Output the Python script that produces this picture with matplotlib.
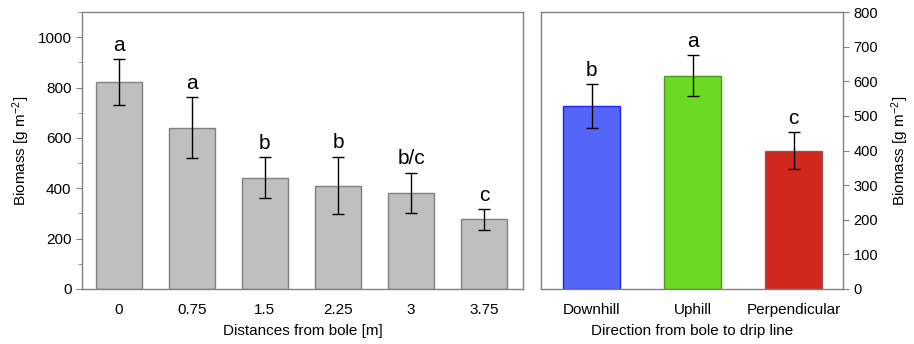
import numpy as np
import matplotlib
matplotlib.use('Agg')
import matplotlib.pyplot as plt
from matplotlib.ticker import MultipleLocator

plt.rcParams['font.family'] = ['Liberation Sans', 'DejaVu Sans']
plt.rcParams['font.size'] = 11
plt.rcParams['mathtext.fontset'] = 'custom'
plt.rcParams['mathtext.rm'] = 'Liberation Sans'
plt.rcParams['mathtext.default'] = 'regular'

# data, left panel
distances = ['0', '0.75', '1.5', '2.25', '3', '3.75']
biomass_dist = [822, 641, 442, 411, 382, 276]
err_dist = [91, 122, 82, 115, 80, 40]
letters_dist = ['a', 'a', 'b', 'b', 'b/c', 'c']

# data, right panel
directions = ['Downhill', 'Uphill', 'Perpendicular']
biomass_dir = [528, 616, 399]
err_dir = [63, 60, 53]
letters_dir = ['b', 'a', 'c']
colors_dir = ['#5465FA', '#6ADA22', '#D0281C']
edges_dir = ['#2222EE', '#4A9A22', '#8A5A50']

spine_col = '#808080'
ylab = 'Biomass [g m$^{\\mathrm{-2}}$]'

fig = plt.figure(figsize=(9.14, 3.44), dpi=100)
ax1 = fig.add_axes([82/914, 1-289/344, 441/914, 277/344])
ax2 = fig.add_axes([541/914, 1-289/344, 302/914, 277/344])

# ---- left panel
x1 = np.arange(len(distances))
ax1.bar(x1, biomass_dist, width=0.63, color='#BFBFBF', edgecolor='#808080', lw=1)
ax1.errorbar(x1, biomass_dist, yerr=err_dist, fmt='none', ecolor='black',
             elinewidth=1, capsize=4, capthick=1)
for xi, v, e, l in zip(x1, biomass_dist, err_dist, letters_dist):
    ax1.annotate(l, (xi, v + e), xytext=(0, 3), textcoords='offset points',
                 ha='center', va='bottom', fontsize=15)
ax1.set_xlim(-0.5, 5.53)
ax1.set_ylim(0, 1100)
ax1.set_xticks(x1)
ax1.set_xticklabels(distances)
ax1.set_yticks(range(0, 1001, 200))
ax1.yaxis.set_minor_locator(MultipleLocator(100))
ax1.set_ylabel(ylab)
ax1.set_xlabel('Distances from bole [m]', labelpad=5)
ax1.tick_params(axis='x', length=0, pad=10, labelsize=11)
ax1.tick_params(axis='y', which='major', length=4, color=spine_col, labelsize=11)
ax1.tick_params(axis='y', which='minor', length=3, color=spine_col)

# ---- right panel
x2 = np.arange(len(directions))
ax2.bar(x2, biomass_dir, width=0.56, color=colors_dir, edgecolor=edges_dir, lw=1)
ax2.errorbar(x2, biomass_dir, yerr=err_dir, fmt='none', ecolor='black',
             elinewidth=1, capsize=4, capthick=1)
for xi, v, e, l in zip(x2, biomass_dir, err_dir, letters_dir):
    ax2.annotate(l, (xi, v + e), xytext=(0, 3), textcoords='offset points',
                 ha='center', va='bottom', fontsize=15)
ax2.set_xlim(-0.5, 2.49)
ax2.set_ylim(0, 800)
ax2.set_xticks(x2)
ax2.set_xticklabels(directions)
ax2.yaxis.tick_right()
ax2.yaxis.set_label_position('right')
ax2.set_yticks(range(0, 801, 100))
ax2.set_ylabel(ylab, labelpad=8)
ax2.set_xlabel('Direction from bole to drip line', labelpad=5)
ax2.tick_params(axis='x', length=0, pad=10, labelsize=11)
ax2.tick_params(axis='y', length=4, color=spine_col, labelsize=10.5)

for ax in (ax1, ax2):
    for s in ax.spines.values():
        s.set_color(spine_col)
        s.set_linewidth(1)

fig.savefig('out.png', dpi=100)
